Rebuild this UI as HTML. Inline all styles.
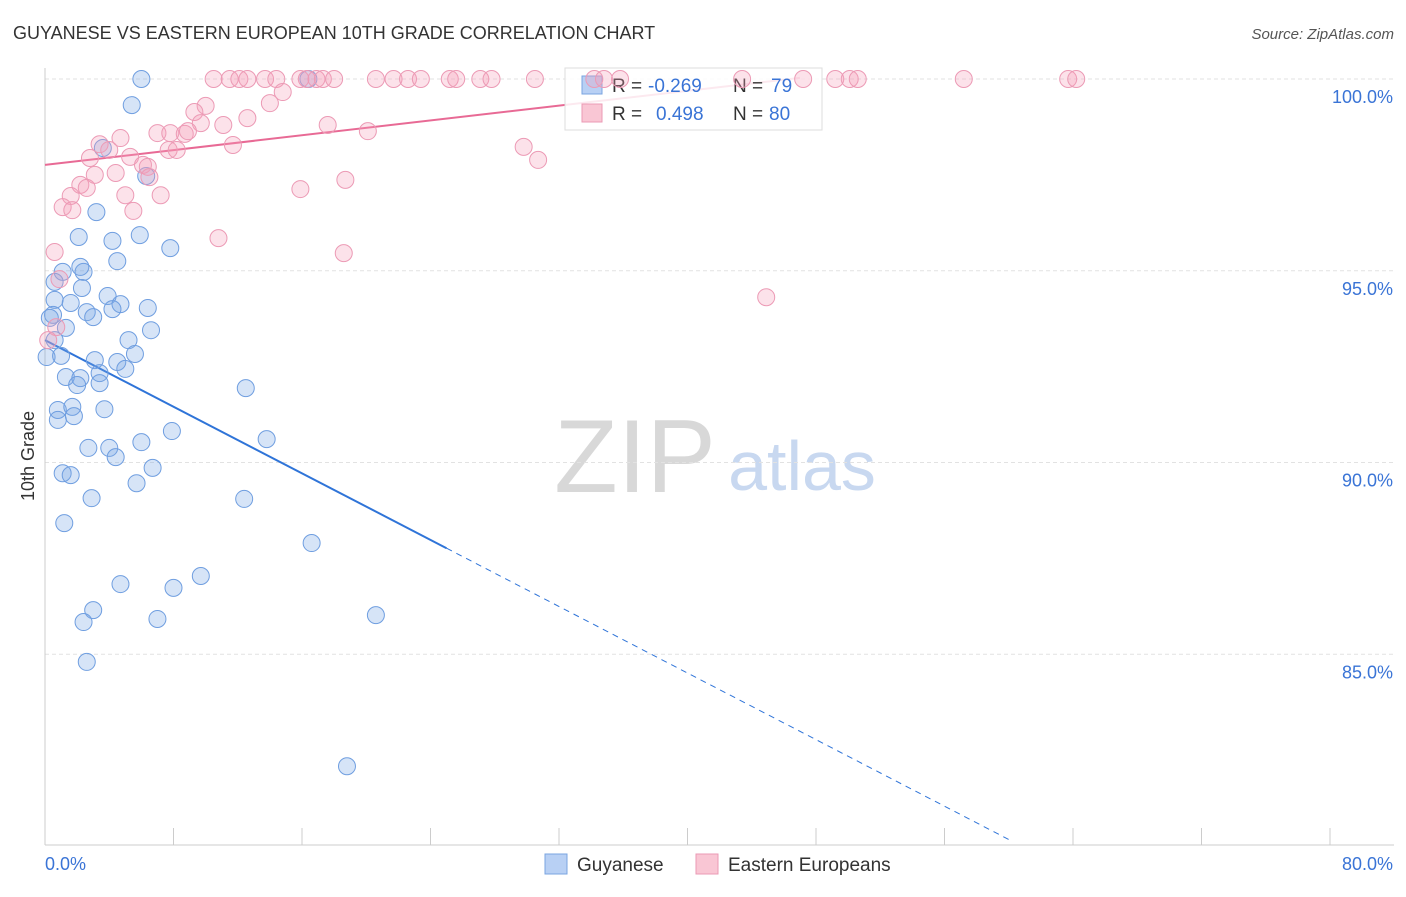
<!DOCTYPE html>
<html><head><meta charset="utf-8"><style>
body{margin:0;background:#fff;font-family:"Liberation Sans",sans-serif;}
svg text{font-family:"Liberation Sans",sans-serif;}
</style></head><body>
<svg id="chart" width="1406" height="892">
<text x="13" y="39" font-size="18" fill="#333">GUYANESE VS EASTERN EUROPEAN 10TH GRADE CORRELATION CHART</text>
<text x="1394" y="39" font-size="15" fill="#555" text-anchor="end" font-style="italic">Source: ZipAtlas.com</text>
<text x="34" y="456" font-size="18" fill="#333" text-anchor="middle" transform="rotate(-90 34 456)">10th Grade</text>
<g>
<text x="635" y="492" font-size="104" fill="#d8d8d8" text-anchor="middle" font-family="Liberation Serif,serif">ZIP</text>
<text x="802" y="490" font-size="70" fill="#c8d8f0" text-anchor="middle">atlas</text></g>
<g id="grid"></g><g id="axes"></g><g id="trend"></g>
<g>
<rect x="565" y="68" width="257" height="62" fill="#fff" fill-opacity="0.85" stroke="#ddd"/>
<rect x="582" y="76" width="20" height="18" fill="#b8d0f4" stroke="#7aa4e0"/>
<rect x="582" y="104" width="20" height="18" fill="#f9c6d4" stroke="#eb9ab4"/>
<text x="612" y="92" font-size="19" fill="#333">R =</text>
<text x="648" y="92" font-size="19" fill="#3a74d6">-0.269</text>
<text x="733" y="92" font-size="19" fill="#333">N =</text>
<text x="771" y="92" font-size="19" fill="#3a74d6">79</text>
<text x="612" y="120" font-size="19" fill="#333">R =</text>
<text x="656" y="120" font-size="19" fill="#3a74d6">0.498</text>
<text x="733" y="120" font-size="19" fill="#333">N =</text>
<text x="769" y="120" font-size="19" fill="#3a74d6">80</text>
</g>
<g id="pts"></g>
<g>
<rect x="545" y="854" width="22" height="20" fill="#b8d0f4" stroke="#7aa4e0"/>
<text x="577" y="871" font-size="19" fill="#333">Guyanese</text>
<rect x="696" y="854" width="22" height="20" fill="#f9c6d4" stroke="#eb9ab4"/>
<text x="728" y="871" font-size="19" fill="#333">Eastern Europeans</text>
</g>
</svg>
<script>
const blueX=[6.0,5.4,3.6,6.3,3.2,2.1,4.2,5.9,7.8,4.5,1.1,2.4,2.2,0.6,2.3,3.9,0.6,1.6,4.7,6.4,4.2,2.6,3.0,0.5,0.3,1.3,6.6,0.6,5.2,0.1,1.0,3.1,5.6,4.5,5.0,3.4,1.3,2.2,3.4,2.0,12.5,0.8,1.7,3.7,1.8,0.8,7.9,13.8,6.0,2.7,4.0,4.4,6.7,1.1,1.6,5.7,2.9,12.4,1.2,16.6,9.7,4.7,8.0,3.0,2.4,7.0,20.6,2.6,18.8,16.4];
const blueY=[100,99.32,98.2,97.47,96.53,95.88,95.78,95.93,95.59,95.25,94.97,94.97,95.1,94.71,94.55,94.34,94.24,94.16,94.13,94.03,94.0,93.92,93.79,93.85,93.77,93.51,93.45,93.19,93.19,92.75,92.78,92.67,92.83,92.62,92.44,92.33,92.23,92.2,92.07,92.02,91.94,91.37,91.45,91.39,91.21,91.11,90.82,90.61,90.53,90.38,90.38,90.14,89.86,89.72,89.67,89.46,89.07,89.05,88.42,87.9,87.04,86.83,86.73,86.15,85.84,85.92,86.02,84.8,82.08,100];
const pinkX=[10.5,11.5,12.1,12.6,13.7,14.4,15.9,16.3,16.9,17.3,18.0,20.6,21.7,22.6,23.4,25.2,25.6,27.1,27.8,30.5,34.2,34.8,35.8,43.4,47.2,49.2,50.1,50.6,57.2,63.7,64.2,14.8,14.0,10.0,9.3,12.6,9.7,11.1,17.6,7.0,7.8,8.7,8.9,20.1,4.7,3.4,4.0,11.7,7.7,8.2,29.8,2.8,5.3,6.1,30.7,6.4,4.4,3.1,6.5,2.2,2.6,18.7,15.9,5.0,7.2,1.6,1.1,1.7,5.5,10.8,0.6,18.6,0.9,44.9,0.7,0.2];
const pinkY=[100,100,100,100,100,100,100,100,100,100,100,100,100,100,100,100,100,100,100,100,100,100,100,100,100,100,100,100,100,100,100,99.66,99.37,99.3,99.14,98.98,98.85,98.8,98.8,98.59,98.59,98.57,98.64,98.64,98.46,98.3,98.15,98.28,98.15,98.15,98.23,97.94,97.97,97.76,97.89,97.71,97.55,97.5,97.44,97.24,97.16,97.37,97.13,96.97,96.97,96.95,96.66,96.58,96.56,95.85,95.49,95.46,94.78,94.31,93.53,93.19];
const yTicks=[100,95,90,85];
const xTickLabels=["0.0%","80.0%"];
const blueTrend=[93.19,-0.217];
const pinkTrend=[97.76,0.0483];
const NS="http://www.w3.org/2000/svg";
const sx=v=>45+v/80*1285, sy=v=>79+(100-v)*38.35;
function mk(tag,attrs,parent){const e=document.createElementNS(NS,tag);for(const k in attrs)e.setAttribute(k,attrs[k]);document.getElementById(parent).appendChild(e);return e;}
yTicks.forEach(t=>{
 const l=mk('line',{x1:45,x2:1394,y1:sy(t),y2:sy(t),stroke:'#e2e2e2','stroke-dasharray':'4,3'},'grid');
 
 
 const tx=mk('text',{x:1393,y:sy(t)+24,'font-size':18,fill:'#3a74d6','text-anchor':'end'},'grid');tx.textContent=t.toFixed(1)+'%';
 
 
});
mk('line',{x1:45,x2:45,y1:68,y2:845,stroke:'#ccc'},'axes');
mk('line',{x1:45,x2:1394,y1:845,y2:845,stroke:'#ccc'},'axes');
for(let i=0;i<=10;i++){const x=sx(i*8);mk('line',{x1:x,x2:x,y1:828,y2:845,stroke:'#ccc'},'axes');}
const xl=mk('text',{x:45,y:870,'font-size':18,fill:'#3a74d6'},'axes');xl.textContent=xTickLabels[0];


const xr=mk('text',{x:1393,y:870,'font-size':18,fill:'#3a74d6','text-anchor':'end'},'axes');xr.textContent=xTickLabels[1];


blueX.forEach((x,i)=>{const c=mk('circle',{cx:sx(x),cy:sy(blueY[i]),r:8.5,fill:'rgba(120,165,230,0.3)',stroke:'#6f9ee0','stroke-width':1},'pts');
 
 });
pinkX.forEach((x,i)=>{const c=mk('circle',{cx:sx(x),cy:sy(pinkY[i]),r:8.5,fill:'rgba(245,160,185,0.3)',stroke:'#ec9ab5','stroke-width':1},'pts');
 
 });
const b=v=>blueTrend[0]+blueTrend[1]*v, p=v=>pinkTrend[0]+pinkTrend[1]*v;
const t1=mk('line',{x1:sx(0),y1:sy(b(0)),x2:sx(25),y2:sy(b(25)),stroke:'#2f74d8','stroke-width':2},'trend');


const t2=mk('line',{x1:sx(25),y1:sy(b(25)),x2:sx(60.1),y2:sy(b(60.1)),stroke:'#2f74d8','stroke-width':1,'stroke-dasharray':'6,5'},'trend');


const t3=mk('line',{x1:sx(0),y1:sy(p(0)),x2:sx(47),y2:sy(p(47)),stroke:'#e86a95','stroke-width':2},'trend');


</script>
</body></html>
